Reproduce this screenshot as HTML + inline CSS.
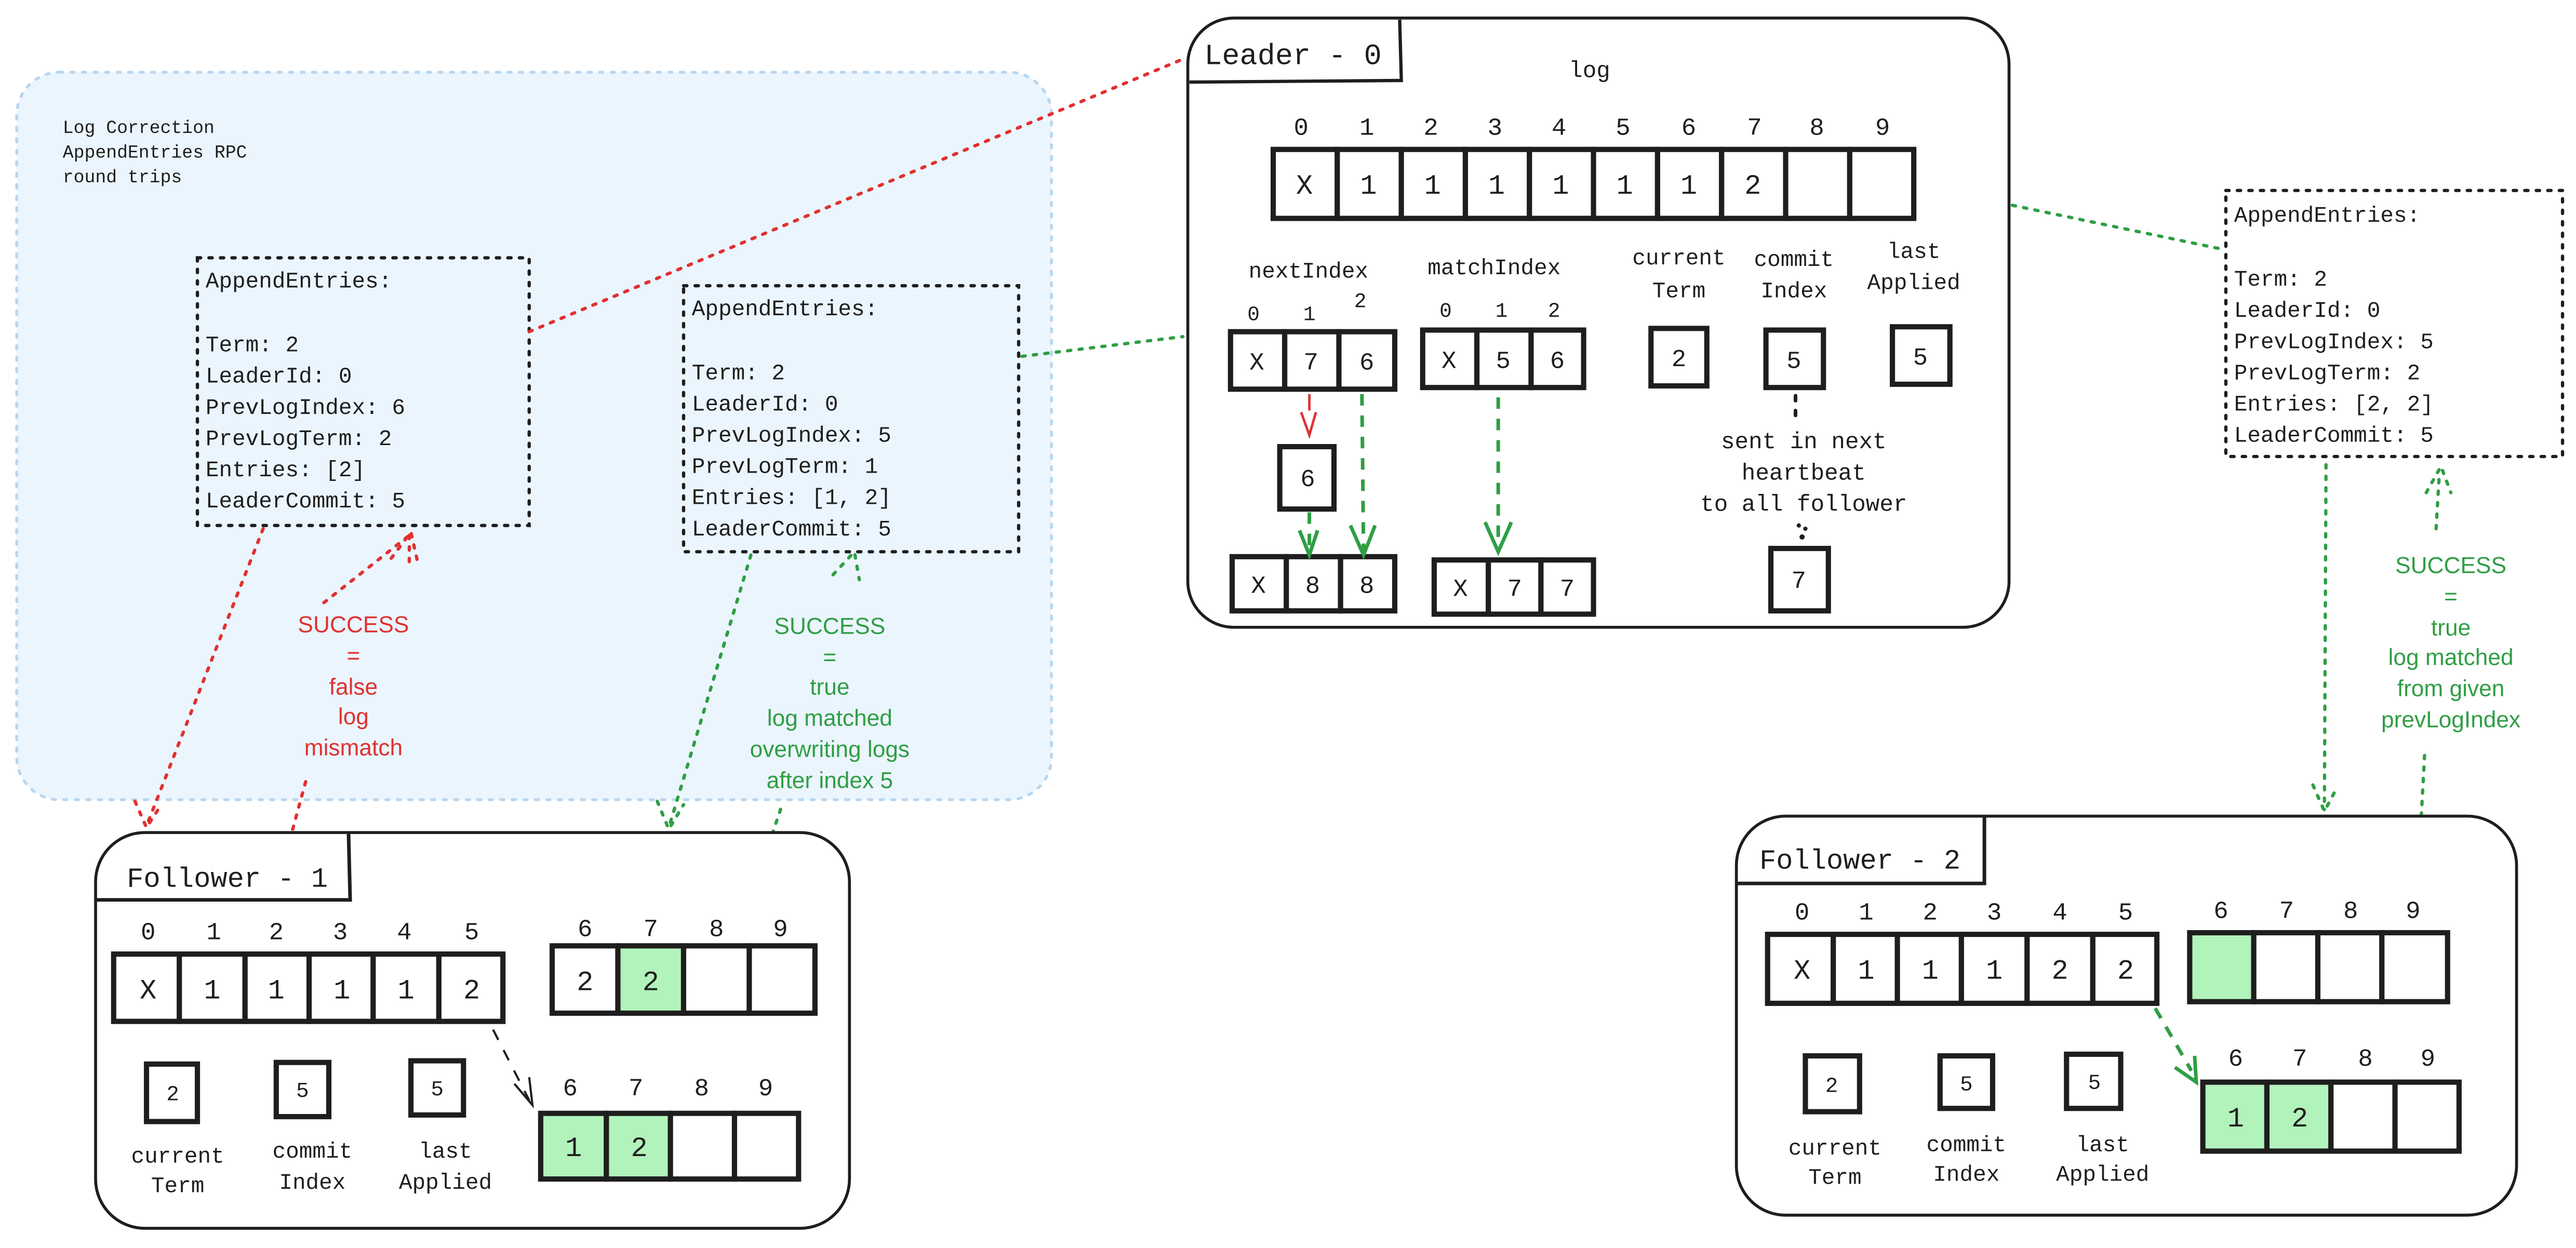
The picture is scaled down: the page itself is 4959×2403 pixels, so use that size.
<!DOCTYPE html>
<html><head><meta charset="utf-8"><style>
html,body{margin:0;padding:0;background:#fff;}
svg{display:block;}
.m{font-family:"Liberation Mono","DejaVu Sans Mono",monospace;fill:#1e1e1e;}
.s{font-family:"Liberation Sans","DejaVu Sans",sans-serif;}
.c{fill:#fff;stroke:#1e1e1e;stroke-width:3.2;}
.g{fill:#b2f2bb;stroke:#1e1e1e;stroke-width:3.2;}
.cont{fill:#fff;stroke:#1e1e1e;stroke-width:1.8;}
.ae{fill:none;stroke:#1e1e1e;stroke-width:2;stroke-dasharray:2 5;stroke-linecap:round;}
.rd{fill:none;stroke:#e03131;stroke-width:2;stroke-dasharray:2 5;stroke-linecap:round;}
.gd{fill:none;stroke:#2f9e44;stroke-width:2;stroke-dasharray:2 5;stroke-linecap:round;}
.gl{fill:none;stroke:#2f9e44;stroke-width:2.2;stroke-dasharray:7 6;}
.gh{fill:none;stroke:#2f9e44;stroke-width:2.2;}
</style></head><body>
<svg width="4959" height="2403" viewBox="0 0 1568 760" xmlns="http://www.w3.org/2000/svg">
<!-- blue region -->
<rect x="10" y="44" width="630" height="443" rx="26" fill="#ebf5fe" stroke="#b9d7ef" stroke-width="1.8" stroke-dasharray="2 5" stroke-linecap="round"/>
<g class="m" font-size="11">
<text x="38" y="81">Log Correction</text>
<text x="38" y="96">AppendEntries RPC</text>
<text x="38" y="111">round trips</text>
</g>

<!-- AE box 1 -->
<rect class="ae" x="120" y="157" width="202" height="163"/>
<g class="m" font-size="13.5">
<text x="125" y="175">AppendEntries:</text>
<text x="125" y="214">Term: 2</text>
<text x="125" y="233">LeaderId: 0</text>
<text x="125" y="252">PrevLogIndex: 6</text>
<text x="125" y="271">PrevLogTerm: 2</text>
<text x="125" y="290">Entries: [2]</text>
<text x="125" y="309">LeaderCommit: 5</text>
</g>
<!-- AE box 2 -->
<rect class="ae" x="416" y="174" width="204" height="162"/>
<g class="m" font-size="13.5">
<text x="421" y="192">AppendEntries:</text>
<text x="421" y="231">Term: 2</text>
<text x="421" y="250">LeaderId: 0</text>
<text x="421" y="269">PrevLogIndex: 5</text>
<text x="421" y="288">PrevLogTerm: 1</text>
<text x="421" y="307">Entries: [1, 2]</text>
<text x="421" y="326">LeaderCommit: 5</text>
</g>
<!-- AE box 3 -->
<rect class="ae" x="1355" y="116" width="205" height="162"/>
<g class="m" font-size="13.5">
<text x="1360" y="135">AppendEntries:</text>
<text x="1360" y="174">Term: 2</text>
<text x="1360" y="193">LeaderId: 0</text>
<text x="1360" y="212">PrevLogIndex: 5</text>
<text x="1360" y="231">PrevLogTerm: 2</text>
<text x="1360" y="250">Entries: [2, 2]</text>
<text x="1360" y="269">LeaderCommit: 5</text>
</g>

<!-- connectors -->
<line class="rd" x1="322" y1="202" x2="720" y2="36"/>
<line class="gd" x1="622" y1="217" x2="720" y2="205"/>
<line class="gd" x1="1225" y1="125" x2="1354" y2="152"/>
<line class="rd" x1="160" y1="322" x2="89" y2="503"/>
<path class="rd" d="M82 488 L89 504 L98 490"/>
<line class="rd" x1="178" y1="505" x2="187" y2="472"/>
<line class="rd" x1="197" y1="367" x2="249" y2="326"/>
<line class="rd" x1="249" y1="326" x2="249" y2="345"/>
<path class="rd" d="M238 340 L250 324 L254 342"/>
<line class="gd" x1="457" y1="338" x2="407" y2="504"/>
<path class="gd" d="M400 488 L407 505 L416 490"/>
<line class="gd" x1="470" y1="508" x2="476" y2="490"/>
<path class="gd" d="M507 350 L520 336 L523 353"/>
<line class="gd" x1="1416" y1="283" x2="1415" y2="493"/>
<path class="gd" d="M1408 478 L1415 494 L1423 479"/>
<line class="gd" x1="1474" y1="497" x2="1476" y2="460"/>
<line class="gd" x1="1483" y1="322" x2="1485" y2="288"/>
<path class="gd" d="M1477 300 L1486 284 L1492 300"/>

<g class="s" font-size="14" fill="#e03131" text-anchor="middle">
<text x="215" y="385">SUCCESS</text><text x="215" y="404">=</text><text x="215" y="423">false</text><text x="215" y="441">log</text><text x="215" y="460">mismatch</text>
</g>
<g class="s" font-size="14" fill="#2f9e44" text-anchor="middle">
<text x="505" y="386">SUCCESS</text><text x="505" y="405">=</text><text x="505" y="423">true</text><text x="505" y="442">log matched</text><text x="505" y="461">overwriting logs</text><text x="505" y="480">after index 5</text>
<text x="1492" y="349">SUCCESS</text><text x="1492" y="368">=</text><text x="1492" y="387">true</text><text x="1492" y="405">log matched</text><text x="1492" y="424">from given</text><text x="1492" y="443">prevLogIndex</text>
</g>

<!-- Leader -->
<rect class="cont" x="723" y="11" width="500" height="371" rx="28"/>
<path d="M724 50 L853 49 L852 12" fill="none" stroke="#1e1e1e" stroke-width="2"/>
<text class="m" x="733" y="39" font-size="18">Leader - 0</text>
<text class="m" x="955" y="47" font-size="14">log</text>
<g class="m" font-size="15" text-anchor="middle">
<text x="792" y="82">0</text><text x="832" y="82">1</text><text x="871" y="82">2</text><text x="910" y="82">3</text><text x="949" y="82">4</text><text x="988" y="82">5</text><text x="1028" y="82">6</text><text x="1068" y="82">7</text><text x="1106" y="82">8</text><text x="1146" y="82">9</text>
</g>
<g>
<rect class="c" x="775" y="91" width="39" height="42"/><rect class="c" x="814" y="91" width="39" height="42"/><rect class="c" x="853" y="91" width="39" height="42"/><rect class="c" x="892" y="91" width="39" height="42"/><rect class="c" x="931" y="91" width="39" height="42"/><rect class="c" x="970" y="91" width="39" height="42"/><rect class="c" x="1009" y="91" width="39" height="42"/><rect class="c" x="1048" y="91" width="39" height="42"/><rect class="c" x="1087" y="91" width="39" height="42"/><rect class="c" x="1126" y="91" width="39" height="42"/>
</g>
<g class="m" font-size="17" text-anchor="middle">
<text x="794" y="118">X</text><text x="833" y="118">1</text><text x="872" y="118">1</text><text x="911" y="118">1</text><text x="950" y="118">1</text><text x="989" y="118">1</text><text x="1028" y="118">1</text><text x="1067" y="118">2</text>
</g>
<g class="m" font-size="13.5">
<text x="760" y="169">nextIndex</text>
<text x="869" y="167">matchIndex</text>
<text x="1022" y="161" text-anchor="middle">current</text><text x="1022" y="181" text-anchor="middle">Term</text>
<text x="1092" y="162" text-anchor="middle">commit</text><text x="1092" y="181" text-anchor="middle">Index</text>
<text x="1165" y="157" text-anchor="middle">last</text><text x="1165" y="176" text-anchor="middle">Applied</text>
</g>
<g class="m" font-size="12.5" text-anchor="middle">
<text x="763" y="195">0</text><text x="797" y="195">1</text><text x="828" y="187">2</text>
<text x="880" y="193">0</text><text x="914" y="193">1</text><text x="946" y="193">2</text>
</g>
<rect class="c" x="749" y="202" width="33" height="35"/><rect class="c" x="782" y="202" width="33" height="35"/><rect class="c" x="815" y="202" width="34" height="35"/>
<rect class="c" x="866" y="201" width="33" height="35"/><rect class="c" x="899" y="201" width="33" height="35"/><rect class="c" x="932" y="201" width="32" height="35"/>
<rect class="c" x="1005" y="200" width="34" height="35"/>
<rect class="c" x="1075" y="201" width="35" height="35"/>
<rect class="c" x="1152" y="199" width="35" height="35"/>
<rect class="c" x="779" y="272" width="33" height="38"/>
<rect class="c" x="750" y="339" width="33" height="33"/><rect class="c" x="783" y="339" width="33" height="33"/><rect class="c" x="816" y="339" width="33" height="33"/>
<rect class="c" x="873" y="341" width="33" height="33"/><rect class="c" x="906" y="341" width="32" height="33"/><rect class="c" x="938" y="341" width="32" height="33"/>
<rect class="c" x="1078" y="334" width="35" height="38"/>
<g class="m" font-size="15" text-anchor="middle">
<text x="765" y="225">X</text><text x="798" y="225">7</text><text x="832" y="225">6</text>
<text x="882" y="224">X</text><text x="915" y="224">5</text><text x="948" y="224">6</text>
<text x="1022" y="223">2</text><text x="1092" y="224">5</text><text x="1169" y="222">5</text>
<text x="796" y="296">6</text>
<text x="766" y="361">X</text><text x="799" y="361">8</text><text x="832" y="361">8</text>
<text x="889" y="363">X</text><text x="922" y="363">7</text><text x="954" y="363">7</text>
<text x="1095" y="358">7</text>
</g>
<line x1="797" y1="240" x2="797" y2="250" stroke="#e03131" stroke-width="1.5"/>
<path d="M792 251 L797 265 L801 251" fill="none" stroke="#e03131" stroke-width="1.5"/>
<line class="gl" x1="797" y1="312" x2="797" y2="336"/>
<path class="gh" d="M791 323 L797 338 L802 323"/>
<line class="gl" x1="829" y1="240" x2="830" y2="336"/>
<path class="gh" d="M822 320 L830 338 L837 320"/>
<line class="gl" x1="912" y1="242" x2="912" y2="333"/>
<path class="gh" d="M904 318 L912 336 L920 318"/>
<line x1="1093" y1="241" x2="1093" y2="256" stroke="#1e1e1e" stroke-width="2.2" stroke-dasharray="3 6" stroke-linecap="round"/>
<g class="m" font-size="14" text-anchor="middle">
<text x="1098" y="273">sent in next</text><text x="1098" y="292">heartbeat</text><text x="1098" y="311">to all follower</text>
</g>
<circle cx="1095" cy="320" r="1.3" fill="#1e1e1e"/><circle cx="1099" cy="322" r="1.3" fill="#1e1e1e"/><circle cx="1097" cy="327" r="1.6" fill="#1e1e1e"/>

<!-- Follower 1 -->
<rect class="cont" x="58" y="507" width="459" height="241" rx="30"/>
<path d="M58 548 L213 548 L212 507" fill="none" stroke="#1e1e1e" stroke-width="2.2"/>
<text class="m" x="77" y="540" font-size="17">Follower - 1</text>
<g class="m" font-size="15" text-anchor="middle">
<text x="90" y="572">0</text><text x="130" y="572">1</text><text x="168" y="572">2</text><text x="207" y="572">3</text><text x="246" y="572">4</text><text x="287" y="572">5</text>
<text x="356" y="570">6</text><text x="396" y="570">7</text><text x="436" y="570">8</text><text x="475" y="570">9</text>
<text x="347" y="667">6</text><text x="387" y="667">7</text><text x="427" y="667">8</text><text x="466" y="667">9</text>
</g>
<rect class="c" x="69" y="581" width="40" height="41"/><rect class="c" x="109" y="581" width="40" height="41"/><rect class="c" x="149" y="581" width="39" height="41"/><rect class="c" x="188" y="581" width="39" height="41"/><rect class="c" x="227" y="581" width="40" height="41"/><rect class="c" x="267" y="581" width="39" height="41"/>
<rect class="c" x="336" y="576" width="40" height="41"/><rect class="g" x="376" y="576" width="40" height="41"/><rect class="c" x="416" y="576" width="40" height="41"/><rect class="c" x="456" y="576" width="40" height="41"/>
<rect class="g" x="329" y="678" width="40" height="40"/><rect class="g" x="369" y="678" width="39" height="40"/><rect class="c" x="408" y="678" width="39" height="40"/><rect class="c" x="447" y="678" width="39" height="40"/>
<rect class="c" x="89" y="648" width="31" height="35"/><rect class="c" x="168" y="647" width="32" height="33"/><rect class="c" x="250" y="646" width="32" height="33"/>
<g class="m" font-size="17" text-anchor="middle">
<text x="90" y="608">X</text><text x="129" y="608">1</text><text x="168" y="608">1</text><text x="208" y="608">1</text><text x="247" y="608">1</text><text x="287" y="608">2</text>
<text x="356" y="603">2</text><text x="396" y="603">2</text>
<text x="349" y="704">1</text><text x="389" y="704">2</text>
</g>
<g class="m" font-size="13" text-anchor="middle">
<text x="105" y="670">2</text><text x="184" y="668">5</text><text x="266" y="667">5</text>
</g>
<g class="m" font-size="13.5" text-anchor="middle">
<text x="108" y="708">current</text><text x="108" y="726">Term</text>
<text x="190" y="705">commit</text><text x="190" y="724">Index</text>
<text x="271" y="705">last</text><text x="271" y="724">Applied</text>
</g>
<line x1="300" y1="627" x2="322" y2="670" stroke="#1e1e1e" stroke-width="1.3" stroke-dasharray="7 7"/>
<path d="M313 660 L324 673 L322 656" fill="none" stroke="#1e1e1e" stroke-width="1.3"/>

<!-- Follower 2 -->
<rect class="cont" x="1057" y="497" width="475" height="243" rx="30"/>
<path d="M1057 538 L1208 538 L1208 497" fill="none" stroke="#1e1e1e" stroke-width="2.2"/>
<text class="m" x="1071" y="529" font-size="17">Follower - 2</text>
<g class="m" font-size="15" text-anchor="middle">
<text x="1097" y="560">0</text><text x="1136" y="560">1</text><text x="1175" y="560">2</text><text x="1214" y="560">3</text><text x="1254" y="560">4</text><text x="1294" y="560">5</text>
<text x="1352" y="559">6</text><text x="1392" y="559">7</text><text x="1431" y="559">8</text><text x="1469" y="559">9</text>
<text x="1361" y="649">6</text><text x="1400" y="649">7</text><text x="1440" y="649">8</text><text x="1478" y="649">9</text>
</g>
<rect class="c" x="1076" y="569" width="40" height="42"/><rect class="c" x="1116" y="569" width="39" height="42"/><rect class="c" x="1155" y="569" width="39" height="42"/><rect class="c" x="1194" y="569" width="40" height="42"/><rect class="c" x="1234" y="569" width="40" height="42"/><rect class="c" x="1274" y="569" width="39" height="42"/>
<rect class="g" x="1333" y="568" width="39" height="42"/><rect class="c" x="1372" y="568" width="39" height="42"/><rect class="c" x="1411" y="568" width="39" height="42"/><rect class="c" x="1450" y="568" width="40" height="42"/>
<rect class="g" x="1341" y="659" width="39" height="42"/><rect class="g" x="1380" y="659" width="39" height="42"/><rect class="c" x="1419" y="659" width="39" height="42"/><rect class="c" x="1458" y="659" width="39" height="42"/>
<rect class="c" x="1099" y="643" width="33" height="34"/><rect class="c" x="1181" y="643" width="32" height="32"/><rect class="c" x="1258" y="642" width="33" height="33"/>
<g class="m" font-size="17" text-anchor="middle">
<text x="1097" y="596">X</text><text x="1136" y="596">1</text><text x="1175" y="596">1</text><text x="1214" y="596">1</text><text x="1254" y="596">2</text><text x="1294" y="596">2</text>
<text x="1361" y="686">1</text><text x="1400" y="686">2</text>
</g>
<g class="m" font-size="13" text-anchor="middle">
<text x="1115" y="665">2</text><text x="1197" y="664">5</text><text x="1275" y="663">5</text>
</g>
<g class="m" font-size="13.5" text-anchor="middle">
<text x="1117" y="703">current</text><text x="1117" y="721">Term</text>
<text x="1197" y="701">commit</text><text x="1197" y="719">Index</text>
<text x="1280" y="701">last</text><text x="1280" y="719">Applied</text>
</g>
<line class="gl" x1="1312" y1="614" x2="1334" y2="652"/>
<path class="gh" d="M1324 650 L1337 659 L1336 643"/>
</svg>
</body></html>
